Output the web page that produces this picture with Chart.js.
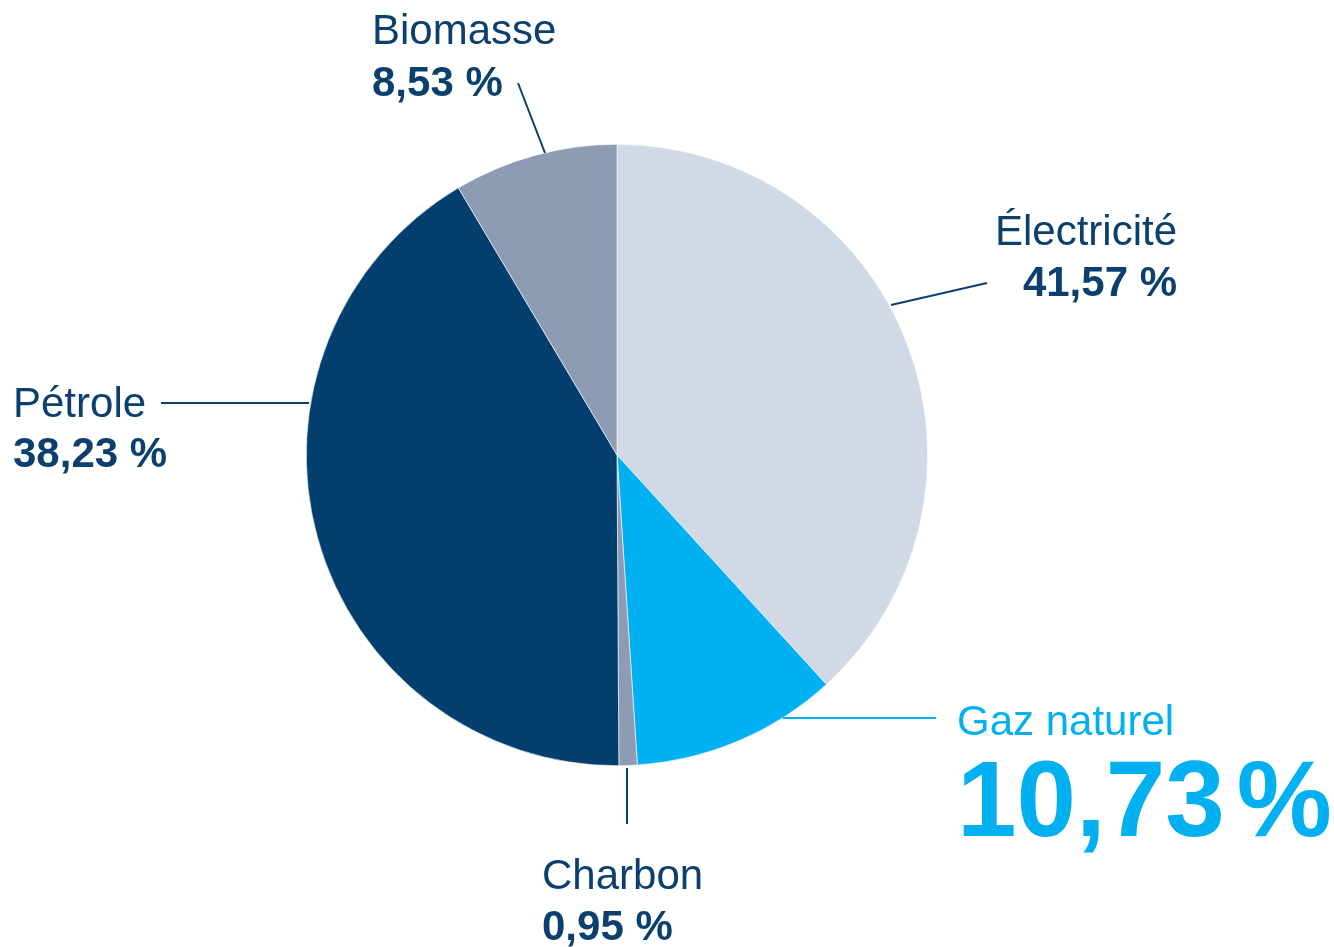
<!DOCTYPE html>
<html lang="fr">
<head>
<meta charset="utf-8">
<script src="https://cdn.jsdelivr.net/npm/chart.js@4/dist/chart.umd.min.js"></script>
<style>
  html, body { margin: 0; padding: 0; background: #ffffff; }
  #wrap { width: 1334px; height: 947px; position: relative; }
</style>
</head>
<body>
<div id="wrap"><canvas id="c" width="1334" height="947"></canvas></div>
<script>
// ---- data ----
const categories = ['Électricité', 'Gaz naturel', 'Charbon', 'Pétrole', 'Biomasse'];
// slice shares as drawn in the picture (clockwise from 12 o'clock)
const sliceShares = [38.23, 10.73, 0.95, 41.57, 8.53];
// percentages printed in the labels
const printedPercents = ['41,57 %', '10,73 %', '0,95 %', '38,23 %', '8,53 %'];
const sliceColors = ['#D0D9E5', '#00B0F0', '#8E9BB4', '#023F6E', '#8E9BB4'];

const NAVY = '#0B3F6E';
const CYAN = '#00B0F0';
const FONT = '"Liberation Sans", Arial, Helvetica, sans-serif';

// label layout (positions in pixels)
const labelLayout = [
  { align: 'right', x: 1177, y1: 245, y2: 296, color: NAVY, line: [[891, 305], [987, 283]] },
  { align: 'left',  x: 957,  y1: 735, y2: 836, color: CYAN, big: true, line: [[783, 718], [936, 718]] },
  { align: 'left',  x: 542,  y1: 889, y2: 940, color: NAVY, line: [[627, 768], [627, 824]] },
  { align: 'left',  x: 13,   y1: 417, y2: 467, color: NAVY, line: [[161, 403], [309, 403]] },
  { align: 'left',  x: 372,  y1: 44,  y2: 96,  color: NAVY, line: [[545, 153], [518, 83]] }
];

const labelPlugin = {
  id: 'pieLabels',
  afterDraw(chart) {
    const ctx = chart.ctx;
    ctx.save();
    labelLayout.forEach((L, i) => {
      // leader line
      ctx.beginPath();
      ctx.strokeStyle = L.color;
      ctx.lineWidth = 2;
      ctx.moveTo(L.line[0][0], L.line[0][1]);
      ctx.lineTo(L.line[1][0], L.line[1][1]);
      ctx.stroke();

      ctx.fillStyle = L.color;
      ctx.textBaseline = 'alphabetic';
      ctx.textAlign = L.align;
      ctx.font = '42px ' + FONT;
      ctx.fillText(categories[i], L.x, L.y1);

      if (L.big) {
        const txt = printedPercents[i];
        const num = txt.replace(/\s*%$/, '');
        ctx.font = 'bold 107px ' + FONT;
        ctx.textAlign = 'left';
        ctx.fillText(num, L.x, L.y2);
        const w = ctx.measureText(num).width;
        ctx.fillText('%', L.x + w + 12, L.y2);
      } else {
        ctx.font = 'bold 42px ' + FONT;
        ctx.fillText(printedPercents[i], L.x, L.y2);
      }
    });
    ctx.restore();
  }
};

new Chart(document.getElementById('c'), {
  type: 'pie',
  data: {
    labels: categories,
    datasets: [{
      data: sliceShares,
      backgroundColor: sliceColors,
      borderColor: '#ffffff',
      borderWidth: 0.6
    }]
  },
  options: {
    responsive: false,
    animation: false,
    layout: { padding: { left: 306, right: 406, top: 144, bottom: 181 } },
    plugins: {
      legend: { display: false },
      tooltip: { enabled: false }
    }
  },
  plugins: [labelPlugin]
});
</script>
</body>
</html>
